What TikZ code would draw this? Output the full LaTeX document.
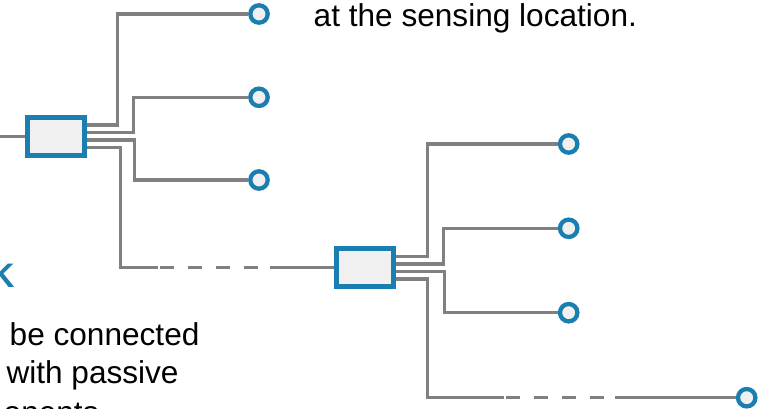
\documentclass[tikz,border=0pt]{standalone}
\usepackage{fontspec}
\setmainfont{Liberation Sans}
\definecolor{nblue}{RGB}{26,127,176}
\definecolor{wgray}{RGB}{128,128,128}
\definecolor{boxfill}{RGB}{240,240,240}
\tikzset{
  wire/.style={draw=wgray,line width=3.5pt},
  gapwire/.style={wire,dash pattern=on 14.5pt off 13.5pt},
  hub/.style={draw=nblue,fill=boxfill,line width=4.6pt,minimum width=57.4pt,minimum height=38pt,inner sep=0pt},
  port/.style={circle,draw=nblue,fill=boxfill,line width=4.3pt,minimum size=17.4pt,inner sep=0pt},
  txt/.style={inner sep=0pt,anchor=base west,font=\fontsize{31.6}{38}\selectfont},
}
\begin{document}
\begin{tikzpicture}[x=1pt,y=-1pt]
\clip (0,0) rectangle (769,409);
\useasboundingbox (0,0) rectangle (769,409);
% texts
\node[txt] (t1) at (313.5,27) {at the sensing location.};
\node[txt] (t2) at (9.5,345) {be connected};
\node[txt] (t3) at (6.3,383) {with passive};
\node[txt] (t4) at (3.5,423) {onents};
\node[txt,text=nblue,font=\fontsize{34}{40}\selectfont\bfseries] (t5) at (-10,287) {K};
% hubs
\node[hub] (b1) at (56,136.5) {};
\node[hub] (b2) at (365,267.5) {};
% ports
\node[port] (c1) at (259,14) {};
\node[port] (c2) at (259,97.3) {};
\node[port] (c3) at (259,180) {};
\node[port] (c4) at (568.7,144) {};
\node[port] (c5) at (568.7,228.3) {};
\node[port] (c6) at (568.7,312.7) {};
\node[port] (c7) at (746.7,397.7) {};
\coordinate (in1) at (0,136.5);
% wires
\draw[wire] (in1) -- (b1.west);
\draw[wire] ([yshift=11.25pt]b1.east) -| (117.7,14) -- (c1);
\draw[wire] ([yshift=3.75pt]b1.east) -| (133.3,97.3) -- (c2);
\draw[wire] ([yshift=-3.75pt]b1.east) -| (134.3,180) -- (c3);
\draw[wire] ([yshift=-11.25pt]b1.east) -| (120.7,267.5) -- (158,267.5);
\draw[gapwire] (159.5,267.5) -- (258,267.5);
\draw[wire] (269.5,267.5) -- (b2.west);
\draw[wire] ([yshift=11.25pt]b2.east) -| (427.3,144) -- (c4);
\draw[wire] ([yshift=3.75pt]b2.east) -| (443.3,228.3) -- (c5);
\draw[wire] ([yshift=-3.75pt]b2.east) -| (444.3,312.7) -- (c6);
\draw[wire] ([yshift=-11.25pt]b2.east) -| (427.7,397.7) -- (504,397.7);
\draw[gapwire] (505.7,397.7) -- (604.2,397.7);
\draw[wire] (615,397.7) -- (c7);
\end{tikzpicture}
\end{document}
